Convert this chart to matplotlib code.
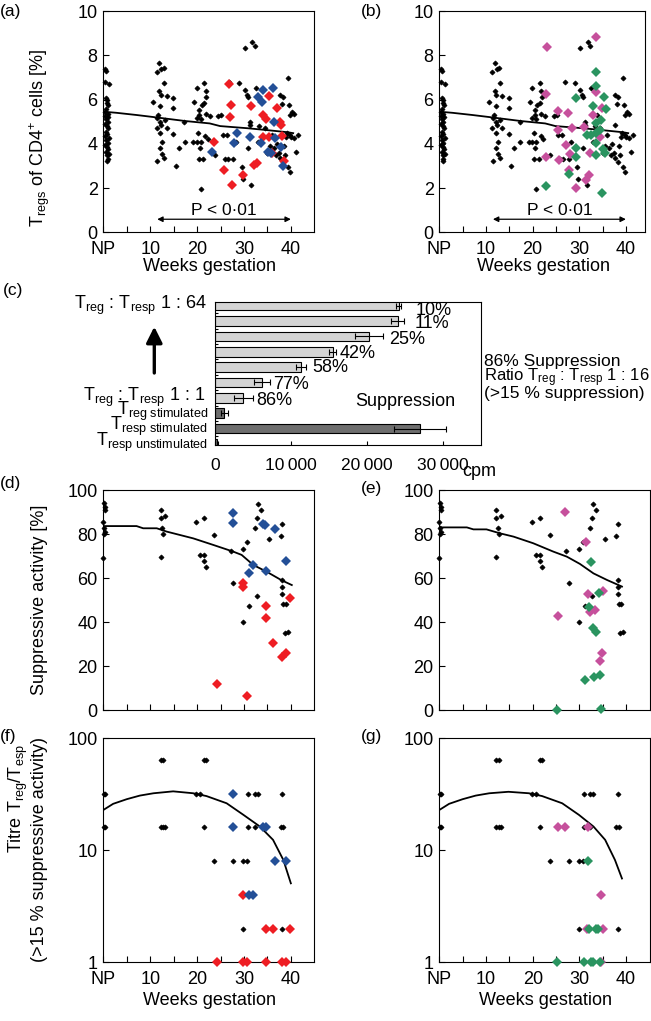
import numpy as np
import matplotlib
matplotlib.use("Agg")
import matplotlib.pyplot as plt

plt.rcParams['font.family'] = ['Liberation Sans', 'DejaVu Sans']
plt.rcParams['mathtext.fontset'] = 'custom'
plt.rcParams['mathtext.rm'] = 'Liberation Sans'
plt.rcParams['mathtext.it'] = 'Liberation Sans:italic'
plt.rcParams['mathtext.bf'] = 'Liberation Sans:bold'

# ---------------- data: Treg % (panels a, b) ----------------
treg_black = [
    (0.3, 7.38), (0.5, 7.3), (0.4, 6.8), (1.3, 6.69), (0.6, 6.08), (0.7, 6.0), (0.8, 5.83), (1.0, 5.75),
    (0.5, 5.57), (0.3, 5.45), (0.9, 5.35), (0.4, 5.25), (1.1, 5.2), (0.6, 5.1), (0.9, 5.0), (0.3, 4.9),
    (0.7, 4.8), (1.0, 4.7), (0.5, 4.55), (0.8, 4.45), (0.4, 4.35), (1.2, 4.25), (0.6, 4.15), (0.9, 4.05),
    (0.3, 3.95), (0.8, 3.85), (1.1, 3.75), (0.5, 3.65), (1.3, 3.55), (0.7, 3.5), (0.9, 3.3), (0.7, 3.2),
    (11.9, 7.67), (11.4, 7.23), (12.4, 7.38), (12.9, 7.41), (13.0, 6.76), (11.9, 6.39), (12.2, 6.2),
    (13.5, 6.17), (14.9, 6.05), (10.7, 5.87), (12.1, 5.72), (14.9, 5.6), (11.7, 5.3), (11.5, 5.15),
    (12.1, 5.0), (12.4, 4.85), (13.1, 5.07), (11.4, 4.7), (13.5, 4.7), (12.1, 4.47), (14.9, 4.44),
    (12.6, 4.1), (16.1, 3.83), (12.1, 3.8), (12.5, 3.52), (13.0, 3.34), (11.5, 3.22), (15.4, 3.01),
    (17.3, 4.97), (17.4, 4.1), (19.2, 4.1), (19.4, 5.87), (19.9, 6.5), (19.9, 5.15), (19.9, 4.07),
    (20.3, 4.47), (20.4, 3.3), (20.5, 5.53), (20.5, 5.3), (20.6, 3.83), (20.8, 5.12), (20.8, 4.07),
    (20.8, 1.96), (21.0, 5.75), (21.5, 6.76), (21.5, 5.83), (21.7, 4.37), (21.9, 6.39), (21.9, 5.33),
    (22.0, 6.13), (22.3, 4.2), (22.7, 5.27), (21.3, 3.31), (23.8, 3.5),
    (24.5, 5.26), (25.2, 5.3), (25.5, 4.4), (26.3, 4.4), (25.9, 3.31), (26.5, 3.3), (27.7, 3.3),
    (26.9, 6.8), (28.3, 4.1), (29.0, 6.76), (29.5, 2.97), (29.8, 2.4), (30.2, 8.31), (30.2, 6.43),
    (30.6, 6.2), (30.9, 6.13), (30.9, 3.83), (31.3, 5.0), (31.3, 4.85), (31.6, 2.14), (31.8, 8.61),
    (32.3, 8.43), (32.5, 6.5), (33.0, 4.1), (33.3, 4.8), (33.8, 5.3), (34.5, 4.7), (35.5, 3.9),
    (36.4, 3.8), (36.9, 3.5), (37.0, 4.0), (37.5, 3.6), (37.7, 6.2), (37.7, 4.85), (37.7, 3.34),
    (38.1, 5.8), (38.4, 6.13), (38.4, 3.19), (38.7, 3.5), (39.1, 4.47), (39.4, 6.96), (39.4, 2.97),
    (39.7, 5.75), (39.8, 5.3), (39.8, 4.4), (39.8, 2.74), (40.2, 5.45), (40.7, 5.33), (40.7, 4.25),
    (41.0, 3.64), (41.5, 4.4), (40.0, 4.3), (39.0, 4.3), (38.5, 3.9), (36.0, 4.4), (35.0, 3.6),
]
treg_red = [
    (26.9, 6.69), (27.3, 5.75), (27.0, 5.23), (23.7, 4.1), (31.4, 5.7), (35.4, 6.15), (34.0, 5.3),
    (34.6, 5.1), (37.1, 5.6), (37.7, 5.0), (35.4, 4.3), (34.1, 4.3), (38.0, 4.85), (38.2, 4.35),
    (38.5, 3.2), (25.8, 2.82), (27.5, 2.14), (29.9, 2.59), (32.2, 3.04), (32.7, 3.15), (36.0, 3.6),
]
treg_blue = [
    (23.2, 3.64), (27.8, 4.02), (28.6, 4.47), (31.3, 4.3), (33.0, 6.1), (34.1, 6.43), (33.9, 5.9),
    (36.2, 6.54), (36.5, 4.97), (33.6, 4.05), (35.2, 3.64), (36.6, 4.25), (38.0, 3.87), (38.4, 3.0),
    (35.8, 3.57),
]
treg_pink = [
    (23.1, 8.39), (33.6, 8.84), (22.8, 6.25), (25.5, 5.48), (27.6, 5.38), (25.4, 4.62), (27.1, 3.95),
    (22.9, 3.42), (25.7, 3.27), (28.0, 3.54), (27.8, 2.82), (29.4, 1.99), (31.4, 2.36), (32.1, 2.59),
    (32.3, 3.57), (31.1, 4.77), (32.9, 5.3), (33.6, 6.36), (34.8, 5.6), (34.4, 4.32), (28.4, 4.7),
]
treg_green = [
    (22.9, 2.11), (27.9, 2.64), (29.4, 3.8), (29.3, 3.42), (29.4, 6.08), (33.6, 7.26), (33.6, 6.61),
    (35.3, 6.1), (35.7, 5.56), (33.0, 5.71), (33.6, 4.92), (34.6, 5.08), (31.6, 4.4), (32.6, 4.4),
    (33.7, 4.47), (33.7, 4.02), (35.1, 3.75), (35.5, 3.6), (33.6, 3.5), (34.8, 1.76), (34.4, 4.62),
]
treg_fit_wk = [0, 2.8, 7.1, 11, 17.4, 22.7, 24.9, 30.9, 34.8, 39.4, 40.5]
treg_fit_val = [5.45, 5.4, 5.3, 5.2, 5.03, 4.92, 4.8, 4.7, 4.62, 4.52, 4.48]

# ---------------- data: suppression assay (panel c) ----------------
bar_cpm = [24160, 24030, 20260, 15520, 11360, 6270, 3770, 1270, 26930, 350]   # top to bottom
bar_sd = [300, 880, 1820, 480, 700, 1050, 1200, 440, 3420, 100]
bar_dark = [False] * 7 + [True] * 3
pct_labels = ['10%', '11%', '25%', '42%', '58%', '77%', '86%']

# ---------------- data: suppressive activity (panels d, e) ----------------
supp_black = [
    (0.1, 93.9), (0.3, 92.5), (0.4, 90.9), (0.0, 85.6), (0.1, 82.6), (0.3, 81.0), (0.2, 80.0), (0.0, 68.9),
    (12.2, 90.9), (12.2, 87.1), (13.1, 88.2), (12.6, 82.6), (12.7, 80.0), (12.2, 69.7),
    (19.8, 85.6), (21.5, 87.1), (20.6, 70.5), (21.5, 70.5), (21.5, 67.9), (22.0, 65.2), (23.6, 79.5),
    (27.2, 72.4), (27.7, 57.9), (29.9, 73.2), (29.9, 40.2), (30.7, 76.5), (31.1, 47.3), (32.3, 82.9),
    (32.7, 87.1), (33.0, 93.6), (33.6, 90.9), (32.7, 51.8), (35.4, 77.6), (38.2, 84.5), (37.9, 79.2),
    (38.2, 59.1), (38.2, 56.1), (38.2, 52.7), (38.4, 48.2), (38.9, 48.2), (38.7, 34.8), (39.4, 35.6),
]
supp_red = [
    (29.9, 57.9), (29.9, 56.1), (34.6, 47.4), (34.8, 42.0), (36.2, 30.6), (38.2, 24.2), (38.9, 25.8),
    (39.9, 50.8), (24.2, 11.7), (30.7, 6.5),
]
supp_blue = [
    (27.7, 89.4), (27.7, 85.2), (34.1, 84.5), (34.5, 84.0), (36.6, 82.1), (38.9, 67.9), (32.0, 65.9),
    (31.1, 62.4), (34.8, 63.3),
]
supp_pink = [
    (26.9, 89.8), (31.4, 76.5), (31.9, 52.7), (32.3, 44.7), (33.4, 45.5), (25.5, 42.7), (35.0, 54.2),
    (34.8, 26.1), (34.4, 22.4),
]
supp_green = [
    (32.4, 67.4), (34.1, 53.3), (32.1, 47.0), (33.0, 37.1), (33.6, 35.6), (31.1, 13.6), (33.1, 15.2),
    (34.4, 15.9), (25.3, 0.0), (34.6, 0.3),
]
supp_fit_d_wk = [0, 7.1, 8.5, 11.4, 13.5, 19.2, 23.5, 27.7, 29.5, 32.0, 34.8, 38.0, 40.2]
supp_fit_d_val = [83.6, 83.6, 82.6, 82.6, 81.1, 78.0, 75.0, 72.0, 70.5, 65.9, 62.9, 59.0, 56.8]
supp_fit_e_wk = [0, 5.9, 7.3, 10.1, 13.0, 15.9, 20.1, 24.4, 27.3, 30.1, 33.0, 35.9, 39.1]
supp_fit_e_val = [83.0, 83.0, 82.1, 82.1, 80.3, 78.8, 75.8, 72.0, 69.7, 66.4, 62.1, 59.1, 56.1]

# ---------------- data: titre (panels f, g) ----------------
titre_black = [
    (0.4, 32), (0.2, 32), (0.4, 16), (0.2, 16),
    (12.2, 64), (12.8, 64), (12.2, 16), (12.7, 16), (13.1, 16),
    (19.8, 32), (20.6, 32), (21.5, 64), (21.9, 64), (21.5, 16), (23.6, 8),
    (27.7, 8), (29.9, 8), (30.7, 8), (29.9, 2), (30.9, 32), (30.9, 16), (32.3, 32), (33.0, 32),
    (32.3, 16), (38.2, 32), (37.9, 16), (38.4, 16), (38.2, 2),
]
titre_red = [(29.9, 4), (24.2, 1), (29.9, 1), (30.7, 1), (34.6, 1), (38.2, 1), (38.9, 1),
             (34.6, 2), (36.2, 2), (39.9, 2)]
titre_blue = [(27.7, 32), (27.7, 16), (34.1, 16), (34.8, 16), (36.6, 8), (38.9, 8), (31.1, 4), (32.0, 4)]
titre_pink = [(25.5, 16), (26.9, 16), (31.9, 16), (34.6, 4), (31.6, 2), (35.0, 2), (34.6, 1)]
titre_green = [(25.3, 1), (30.9, 1), (32.4, 1), (33.0, 1), (34.3, 1), (31.8, 8), (32.1, 2), (33.6, 2), (33.9, 2)]
titre_fit_f_wk = [0, 2.1, 5, 7.8, 10.7, 14.9, 19.2, 22, 26.3, 29.9, 33.4, 36.2, 38.4, 40]
titre_fit_f_val = [22.9, 26.0, 28.6, 30.8, 32.3, 33.6, 32.3, 30.5, 26.3, 20.7, 16.3, 12.4, 8.2, 5.07]
titre_fit_g_wk = [0, 2.1, 5, 7.8, 10.7, 14.8, 19.2, 22, 26.3, 29.9, 33.0, 35.5, 37.6, 39.1]
titre_fit_g_val = [22.9, 26.0, 28.6, 30.8, 32.3, 33.3, 32.3, 30.5, 26.3, 20.7, 16.3, 12.4, 8.2, 5.6]

RED, BLUE, PINK, GREEN = '#ee1d23', '#234f97', '#c6509c', '#2a9460'

W, H = 651, 1021
fig = plt.figure(figsize=(W / 100, H / 100), dpi=100)


def add_ax(l, t, r, b):
    return fig.add_axes([l / W, 1 - b / H, (r - l) / W, (b - t) / H])


def ftext(x, y, s, **kw):
    kw.setdefault('fontsize', 12.5)
    return fig.text(x / W, 1 - y / H, s, **kw)


def scatter_panel(ax, black, cols, fit_x, fit_y):
    b = np.array(black)
    ax.plot(b[:, 0], b[:, 1], 'D', color='k', ms=2.6, mew=0.5, zorder=2, clip_on=False)
    ax.plot(fit_x, fit_y, color='k', lw=1.3, zorder=3)
    for pts, c in cols:
        p = np.array(pts)
        ax.plot(p[:, 0], p[:, 1], 'D', color=c, ms=5.0, mew=0, zorder=4, clip_on=False)


def weeks_axis(ax, xmax, labels=True):
    ax.set_xlim(0, xmax)
    ax.set_xticks(range(0, 41, 5))
    if labels:
        ax.set_xticklabels(['NP', '', '10', '', '20', '', '30', '', '40'])
    else:
        ax.set_xticklabels([])
    ax.tick_params(direction='in', length=4, width=0.8, labelsize=13, pad=4)
    ax.tick_params(axis='x', pad=6)
    for s in ax.spines.values():
        s.set_linewidth(0.8)


# panels a, b
for (l, r, xmax), cols, lab, lx in [
        ((103.3, 314.3, 45), [(treg_red, RED), (treg_blue, BLUE)], '(a)', 0),
        ((439.3, 645, 44.1), [(treg_pink, PINK), (treg_green, GREEN)], '(b)', 360.7)]:
    ax = add_ax(l, 11, r, 232.3)
    scatter_panel(ax, treg_black, cols, treg_fit_wk, treg_fit_val)
    weeks_axis(ax, xmax)
    ax.set_ylim(0, 10)
    ax.set_yticks(range(0, 11, 2))
    ax.annotate('', xy=(40, 0.59), xytext=(11.5, 0.59),
                arrowprops=dict(arrowstyle='<|-|>', lw=0.9, color='k', mutation_scale=8,
                                shrinkA=0, shrinkB=0))
    ax.text(25.8, 0.98, 'P < 0\u00b701', ha='center', va='center', fontsize=12.5)
    ftext(lx, 11.7, lab, ha='left', va='center')
    ftext((l + r) / 2 + 1, 266.7, 'Weeks gestation', ha='center', va='center', fontsize=13)

ftext(39.3, 138, r'T$_{\mathrm{regs}}$ of CD4$^{+}$ cells [%]', rotation=90, ha='center', va='center',
      fontsize=13)

# panel c
axc = add_ax(214.7, 302, 481, 445)
ypos = np.arange(len(bar_cpm))[::-1]
colors = ['#6e6e6e' if d else '#d4d4d4' for d in bar_dark]
axc.barh(ypos, bar_cpm, height=0.62, color=colors, edgecolor='k', linewidth=0.8, zorder=2)
axc.errorbar(bar_cpm, ypos, xerr=bar_sd, fmt='none', ecolor='k', elinewidth=0.8, capsize=2,
             capthick=0.8, zorder=3)
axc.set_xlim(0, 35000)
axc.set_ylim(-0.07, 9.24)
axc.set_xticks([0, 10000, 20000, 30000])
axc.set_xticklabels(['0', '10\u2009000', '20\u2009000', '30\u2009000'])
axc.set_yticks(np.arange(0.5, 9, 1))
axc.set_yticklabels([])
axc.tick_params(direction='in', length=3, width=0.8, labelsize=12.5, pad=9)
axc.tick_params(axis='y', length=2)
for s in axc.spines.values():
    s.set_linewidth(0.8)

pct_dx = [15, 10, 6, 3, 6, 3, 3.5]      # px gap after error bar
pct_dy = [0.33, 0.15, 0.18, 0.09, 0.05, 0.12, 0.16]
for i, lab in enumerate(pct_labels):
    x = bar_cpm[i] + bar_sd[i] + pct_dx[i] / 7.6 * 1000
    axc.text(x, ypos[i] - pct_dy[i], lab, ha='left', va='center', fontsize=13)
ftext(405.5, 401.7, 'Suppression', ha='center', va='center', fontsize=13)

ftext(206.7, 305.7, r'T$_{\mathrm{reg}}$ : T$_{\mathrm{resp}}$ 1 : 64', ha='right', va='center', fontsize=13)
ftext(205, 397.3, r'T$_{\mathrm{reg}}$ : T$_{\mathrm{resp}}$ 1 : 1', ha='right', va='center', fontsize=13)
ftext(208.3, 411, r'T$_{\mathrm{reg\ stimulated}}$', ha='right', va='center', fontsize=13)
ftext(208.3, 426.5, r'T$_{\mathrm{resp\ stimulated}}$', ha='right', va='center', fontsize=13)
ftext(208.3, 442.5, r'T$_{\mathrm{resp\ unstimulated}}$', ha='right', va='center', fontsize=13)
fig.add_artist(matplotlib.patches.FancyArrowPatch(
    (154.3 / W, 1 - 373 / H), (154.3 / W, 1 - 326.7 / H), transform=fig.transFigure,
    arrowstyle='-|>', mutation_scale=24, lw=2.4, color='k', shrinkA=0, shrinkB=0))

ftext(484, 361, '86% Suppression', ha='left', va='center', fontsize=12.5)
ftext(484, 377.3, r'Ratio T$_{\mathrm{reg}}$ : T$_{\mathrm{resp}}$ 1 : 16', ha='left', va='center',
      fontsize=12)
ftext(484, 393.3, '(>15 % suppression)', ha='left', va='center', fontsize=12.5)
ftext(479.7, 471.7, 'cpm', ha='center', va='center', fontsize=13)
ftext(3, 291, '(c)', ha='left', va='center')

# panels d, e
for (l, r, xmax), cols, fx, fy, lab, lx, ly in [
        ((103.3, 314.3, 45), [(supp_red, RED), (supp_blue, BLUE)], supp_fit_d_wk, supp_fit_d_val,
         '(d)', 0, 483),
        ((439.3, 650, 45.1), [(supp_pink, PINK), (supp_green, GREEN)], supp_fit_e_wk, supp_fit_e_val,
         '(e)', 360.7, 488)]:
    ax = add_ax(l, 490, r, 710)
    scatter_panel(ax, supp_black, cols, fx, fy)
    weeks_axis(ax, xmax, labels=False)
    ax.set_ylim(0, 100)
    ax.set_yticks(range(0, 101, 20))
    ftext(lx, ly, lab, ha='left', va='center')

ftext(39.3, 600, 'Suppressive activity [%]', rotation=90, ha='center', va='center', fontsize=13)

# panels f, g
for (l, r, xmax), cols, fx, fy, lab, lx in [
        ((103.3, 314.3, 45), [(titre_red, RED), (titre_blue, BLUE)], titre_fit_f_wk, titre_fit_f_val,
         '(f)', 0),
        ((439.3, 650, 45.1), [(titre_pink, PINK), (titre_green, GREEN)], titre_fit_g_wk, titre_fit_g_val,
         '(g)', 361)]:
    ax = add_ax(l, 738.3, r, 962.3)
    ax.set_yscale('log')
    scatter_panel(ax, titre_black, cols, fx, fy)
    weeks_axis(ax, xmax)
    ax.set_ylim(1, 100)
    ax.set_yticks([1, 10, 100])
    ax.set_yticklabels(['1', '10', '100'])
    ax.yaxis.set_minor_locator(matplotlib.ticker.NullLocator())
    ftext(lx, 737, lab, ha='left', va='center')
    ftext((l + r) / 2 + 1, 1000, 'Weeks gestation', ha='center', va='center', fontsize=13)

ftext(18.3, 799, r'Titre T$_{\mathrm{reg}}$/T$_{\mathrm{esp}}$', rotation=90, ha='center', va='center',
      fontsize=13)
ftext(40, 850, '(>15 % suppressive activity)', rotation=90, ha='center', va='center', fontsize=13)

fig.savefig('out.png', dpi=100)
